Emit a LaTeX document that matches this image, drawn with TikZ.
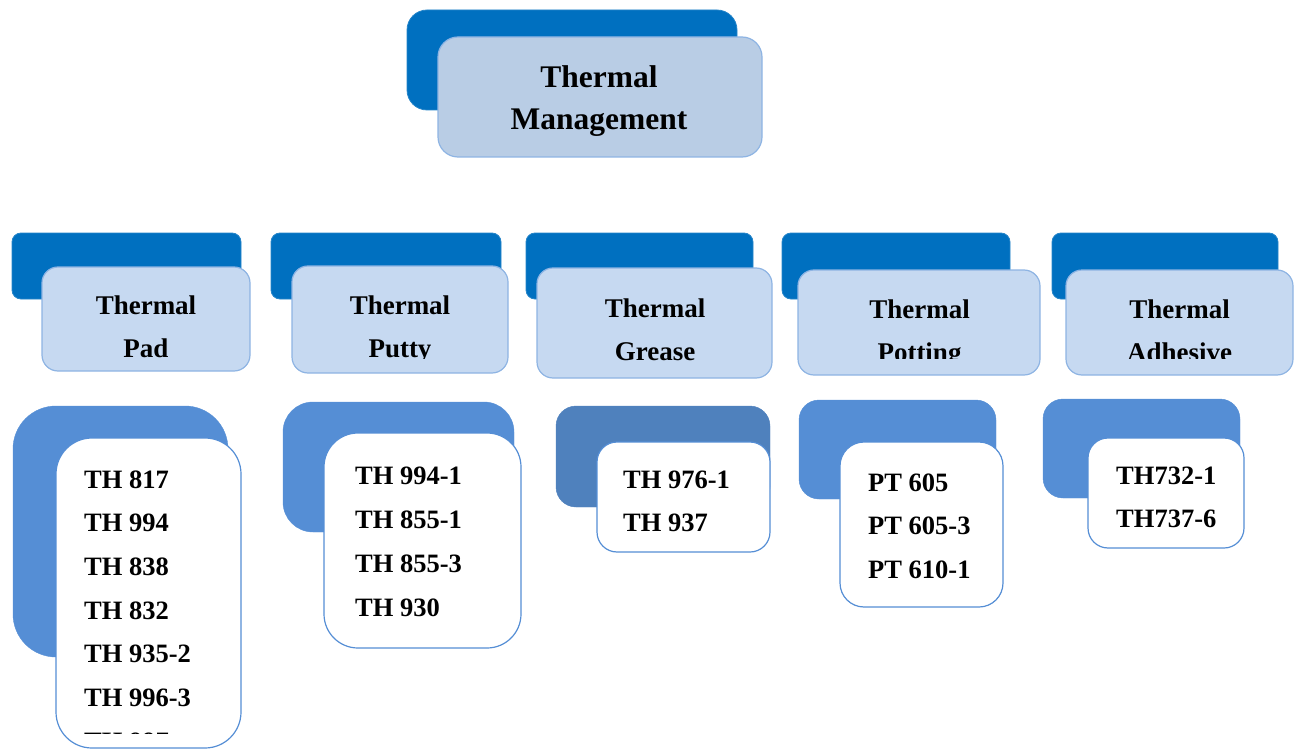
\documentclass[tikz,border=0pt]{standalone}
\usepackage{fontspec}
\setmainfont{Liberation Serif}
\definecolor{deepblue}{HTML}{0070C0}
\definecolor{headfill}{HTML}{B9CDE5}
\definecolor{catfill}{HTML}{C6D9F1}
\definecolor{paleline}{HTML}{8EB4E3}
\definecolor{listblue}{HTML}{558ED5}
\definecolor{greaseblue}{HTML}{4F81BD}
\tikzset{
  darkbox/.style={draw=deepblue!85!white, fill=deepblue, line width=0.8pt, inner sep=0pt},
  palebox/.style={draw=paleline, fill=catfill, line width=1.2pt, inner sep=0pt},
  backbox/.style={draw=listblue, fill=listblue, inner sep=0pt},
  whitebox/.style={draw=listblue, fill=white, line width=1.2pt, inner sep=0pt},
  headtext/.style={font=\fontsize{31.5}{42}\selectfont\bfseries, align=center, inner sep=0pt},
  cattext/.style={font=\fontsize{27}{43}\selectfont\bfseries, align=center, inner sep=0pt},
  itemtext/.style={font=\fontsize{26.5}{43.7}\selectfont\bfseries, align=left, inner sep=0pt, anchor=base west}
}
\begin{document}
\begin{tikzpicture}[x=1pt,y=-1pt]
  \useasboundingbox (0,0) rectangle (1296,749);
  \clip (0,0) rectangle (1296,749);

  % top level
  \node [darkbox, rounded corners=20pt, minimum width=330pt, minimum height=100pt] (headback) at (572,60) {};
  \node [palebox, fill=headfill, rounded corners=20pt, minimum width=324pt, minimum height=120pt] (head) at (600,97) {};
  \node [headtext, anchor=base] (headlabel) at (599,130) {Thermal\\Management};

  % categories
  \node [darkbox, rounded corners=9pt, minimum width=229pt, minimum height=66pt] (padback) at (126.5,266) {};
  \node [palebox, rounded corners=16pt, minimum width=208pt, minimum height=104pt] (pad) at (146,319) {};
  \node [darkbox, rounded corners=9pt, minimum width=230pt, minimum height=66pt] (puttyback) at (386,266) {};
  \node [palebox, rounded corners=16pt, minimum width=216pt, minimum height=107pt] (putty) at (400,319.5) {};
  \node [darkbox, rounded corners=9pt, minimum width=227pt, minimum height=66pt] (greaseback) at (639.5,266) {};
  \node [palebox, rounded corners=16pt, minimum width=235pt, minimum height=110pt] (grease) at (654.5,323) {};
  \node [darkbox, rounded corners=9pt, minimum width=228pt, minimum height=66pt] (pottingback) at (896,266) {};
  \node [palebox, rounded corners=16pt, minimum width=242pt, minimum height=105pt] (potting) at (919,322.5) {};
  \node [darkbox, rounded corners=9pt, minimum width=226pt, minimum height=66pt] (adhesiveback) at (1165,266) {};
  \node [palebox, rounded corners=16pt, minimum width=227pt, minimum height=105pt] (adhesive) at (1179.5,322.5) {};

  \begin{scope}
    \clip (0,250) rectangle (1296,358);
    \node [cattext, anchor=base] (padlabel) at (146,357) {Thermal\\Pad};
    \node [cattext, anchor=base] (puttylabel) at (400,357) {Thermal\\Putty};
    \node [cattext, anchor=base] (pottinglabel) at (919.5,361) {Thermal\\Potting};
    \node [cattext, anchor=base] (adhesivelabel) at (1179.5,361) {Thermal\\Adhesive};
  \end{scope}
  \node [cattext, anchor=base] (greaselabel) at (655,360) {Thermal\\Grease};

  % product lists
  \node [backbox, rounded corners=43pt, minimum width=215pt, minimum height=251pt] (padlistback) at (120.5,531.5) {};
  \node [whitebox, rounded corners=36pt, minimum width=185pt, minimum height=310pt] (padlist) at (148.5,593) {};
  \begin{scope}
    \clip (56,438) rectangle (241,733);
    \node [itemtext] (paditems) at (84,750.2) {TH 817\\TH 994\\TH 838\\TH 832\\TH 935-2\\TH 996-3\\TH 997};
  \end{scope}

  \node [backbox, rounded corners=30pt, minimum width=231pt, minimum height=130pt] (puttylistback) at (398.5,467) {};
  \node [whitebox, rounded corners=34pt, minimum width=197pt, minimum height=215pt] (puttylist) at (422.5,540.5) {};
  \node [itemtext] (puttyitems) at (355,616) {TH 994-1\\TH 855-1\\TH 855-3\\TH 930};

  \node [backbox, draw=greaseblue, fill=greaseblue, rounded corners=20pt, minimum width=214pt, minimum height=101pt] (greaselistback) at (663,456.5) {};
  \node [whitebox, rounded corners=20pt, minimum width=173pt, minimum height=110pt] (greaselist) at (683.5,497) {};
  \node [itemtext] (greaseitems) at (623,531.7) {TH 976-1\\TH 937};

  \node [backbox, rounded corners=20pt, minimum width=197pt, minimum height=99pt] (pottinglistback) at (897.5,449.5) {};
  \node [whitebox, rounded corners=24pt, minimum width=163pt, minimum height=165pt] (pottinglist) at (921.5,524.5) {};
  \node [itemtext] (pottingitems) at (868,578.4) {PT 605\\PT 605-3\\PT 610-1};

  \node [backbox, rounded corners=20pt, minimum width=197pt, minimum height=99pt] (adhesivelistback) at (1141.5,448.5) {};
  \node [whitebox, rounded corners=20pt, minimum width=156pt, minimum height=110pt] (adhesivelist) at (1166,493) {};
  \node [itemtext] (adhesiveitems) at (1116,527.7) {TH732-1\\TH737-6};
\end{tikzpicture}
\end{document}
